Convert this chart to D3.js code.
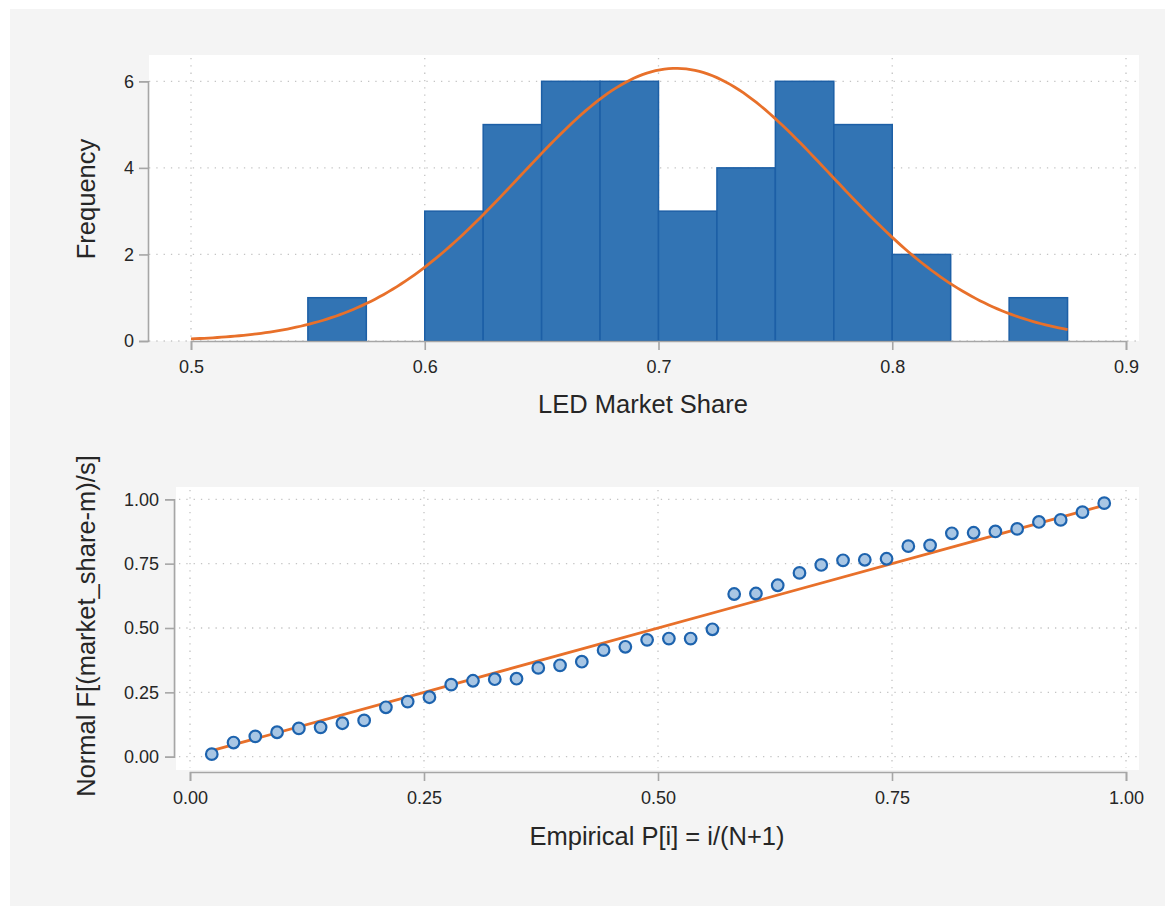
<!DOCTYPE html>
<html><head><meta charset="utf-8">
<script src="https://cdn.jsdelivr.net/npm/d3@7"></script>
<style>
html,body{margin:0;padding:0;background:#fff;}
svg{display:block;font-family:"Liberation Sans",Arial,Helvetica,sans-serif;}
</style></head>
<body>
<svg id="chart" width="1173" height="907"></svg>
<script>
// ---- Data ----
const binStarts = [0.55, 0.60, 0.625, 0.65, 0.675, 0.70, 0.725, 0.75, 0.775, 0.80, 0.85];
const binCounts = [1, 3, 5, 6, 6, 3, 4, 6, 5, 2, 1];
const binWidth = 0.025;
const histXTicks = [0.5, 0.6, 0.7, 0.8, 0.9];
const histYTicks = [0, 2, 4, 6];
const curveMean = 0.7075;
const curveSD = 0.0665;
const curveRange = [0.5, 0.875];

const normalF = [0.010, 0.055, 0.079, 0.095, 0.110, 0.114, 0.130, 0.141, 0.192, 0.214,
  0.231, 0.280, 0.295, 0.301, 0.303, 0.345, 0.355, 0.369, 0.414, 0.427,
  0.454, 0.459, 0.459, 0.495, 0.632, 0.634, 0.666, 0.714, 0.745, 0.763,
  0.765, 0.769, 0.818, 0.821, 0.868, 0.870, 0.875, 0.885, 0.912, 0.920,
  0.950, 0.985];
const ppXTicks = [0, 0.25, 0.5, 0.75, 1];
const ppYTicks = [0, 0.25, 0.5, 0.75, 1];

// ---- Styles ----
const C = {
  panel: "#f4f4f4", plotBg: "#ffffff", axis: "#a6a6a6", grid: "#c4c4c4",
  text: "#262626", barFill: "#3274b4", barStroke: "#1c5fa6",
  orange: "#e8702a", ptFill: "#a8c6e4", ptStroke: "#1d63ae"
};
const TICK_FS = "18px", TITLE_FS = "25.5px";

const svg = d3.select("#chart");
svg.append("rect").attr("x", 10).attr("y", 9).attr("width", 1155).attr("height", 897).attr("fill", C.panel);

function styleAxis(g) {
  g.selectAll(".domain").attr("stroke", C.axis).attr("stroke-width", 1.6);
  g.selectAll(".tick line").attr("stroke", C.axis).attr("stroke-width", 1.6);
  g.selectAll(".tick text").attr("fill", C.text).style("font-size", TICK_FS);
}

// ================= Top: histogram =================
{
  const box = {l: 149, r: 1139, t: 55, b: 341};
  const x = d3.scaleLinear().domain([0.5, 0.9]).range([191, 1126]);
  const y = d3.scaleLinear().domain([0, 6]).range([341, 81.3]);
  const g = svg.append("g");
  g.append("rect").attr("x", box.l).attr("y", box.t).attr("width", box.r - box.l).attr("height", box.b - box.t).attr("fill", C.plotBg);
  g.selectAll(".vg").data(histXTicks).join("line")
    .attr("x1", d => x(d)).attr("x2", d => x(d)).attr("y1", box.t + 3).attr("y2", box.b)
    .attr("stroke", C.grid).attr("stroke-width", 1.3).attr("stroke-dasharray", "1.3,6");
  g.selectAll(".hg").data(histYTicks).join("line")
    .attr("x1", box.l).attr("x2", box.r).attr("y1", d => y(d)).attr("y2", d => y(d))
    .attr("stroke", C.grid).attr("stroke-width", 1.3).attr("stroke-dasharray", "1.3,6");
  g.selectAll(".bar").data(binStarts.map((s, i) => ({s, c: binCounts[i]}))).join("rect")
    .attr("x", d => x(d.s)).attr("width", d => x(d.s + binWidth) - x(d.s))
    .attr("y", d => y(d.c)).attr("height", d => y(0) - y(d.c))
    .attr("fill", C.barFill).attr("stroke", C.barStroke).attr("stroke-width", 1.5);
  const n = d3.sum(binCounts);
  const dens = v => n * binWidth / (curveSD * Math.sqrt(2 * Math.PI)) * Math.exp(-0.5 * ((v - curveMean) / curveSD) ** 2);
  const xs = d3.range(0, 201).map(i => curveRange[0] + (curveRange[1] - curveRange[0]) * i / 200);
  g.append("path").datum(xs)
    .attr("d", d3.line().x(d => x(d)).y(d => y(dens(d))))
    .attr("fill", "none").attr("stroke", C.orange).attr("stroke-width", 2.8);
  const ax = g.append("g").attr("transform", "translate(0,341)")
    .call(d3.axisBottom(x).tickValues(histXTicks).tickFormat(d3.format(".1f")).tickSizeOuter(0).tickSize(9).tickPadding(10));
  styleAxis(ax);
  const ay = g.append("g").attr("transform", "translate(148,0)")
    .call(d3.axisLeft(y).tickValues(histYTicks).tickFormat(d3.format("d")).tickSizeOuter(0).tickSize(9).tickPadding(5));
  styleAxis(ay);
  g.append("text").attr("x", 643).attr("y", 413).attr("text-anchor", "middle")
    .attr("fill", C.text).style("font-size", TITLE_FS).text("LED Market Share");
  g.append("text").attr("transform", "translate(95,199) rotate(-90)").attr("text-anchor", "middle")
    .attr("fill", C.text).style("font-size", TITLE_FS).text("Frequency");
}

// ================= Bottom: P-P plot =================
{
  const box = {l: 176, r: 1139, t: 487, b: 770};
  const x = d3.scaleLinear().domain([0, 1]).range([190, 1126]);
  const y = d3.scaleLinear().domain([0, 1]).range([756.7, 499.3]);
  const g = svg.append("g");
  g.append("rect").attr("x", box.l).attr("y", box.t).attr("width", box.r - box.l).attr("height", box.b - box.t).attr("fill", C.plotBg);
  g.selectAll(".vg").data(ppXTicks).join("line")
    .attr("x1", d => x(d)).attr("x2", d => x(d)).attr("y1", box.t + 3).attr("y2", box.b - 2)
    .attr("stroke", C.grid).attr("stroke-width", 1.3).attr("stroke-dasharray", "1.3,6");
  g.selectAll(".hg").data(ppYTicks).join("line")
    .attr("x1", box.l + 3).attr("x2", box.r).attr("y1", d => y(d)).attr("y2", d => y(d))
    .attr("stroke", C.grid).attr("stroke-width", 1.3).attr("stroke-dasharray", "1.3,6");
  const N = normalF.length;
  const pts = normalF.map((v, i) => ({p: (i + 1) / (N + 1), f: v}));
  g.append("path").datum([pts[0].p, pts[N - 1].p])
    .attr("d", d3.line().x(d => x(d)).y(d => y(d)))
    .attr("fill", "none").attr("stroke", C.orange).attr("stroke-width", 2.8);
  g.selectAll(".pt").data(pts).join("circle")
    .attr("cx", d => x(d.p)).attr("cy", d => y(d.f)).attr("r", 5.8)
    .attr("fill", C.ptFill).attr("stroke", C.ptStroke).attr("stroke-width", 2.2);
  const ax = g.append("g").attr("transform", "translate(0,772)")
    .call(d3.axisBottom(x).tickValues(ppXTicks).tickFormat(d3.format(".2f")).tickSizeOuter(0).tickSize(9).tickPadding(10));
  styleAxis(ax);
  const ay = g.append("g").attr("transform", "translate(174,0)")
    .call(d3.axisLeft(y).tickValues(ppYTicks).tickFormat(d3.format(".2f")).tickSizeOuter(0).tickSize(9).tickPadding(6));
  styleAxis(ay);
  g.append("text").attr("x", 657).attr("y", 845).attr("text-anchor", "middle")
    .attr("fill", C.text).style("font-size", TITLE_FS).text("Empirical P[i] = i/(N+1)");
  g.append("text").attr("transform", "translate(95,626) rotate(-90)").attr("text-anchor", "middle")
    .attr("fill", C.text).style("font-size", TITLE_FS).text("Normal F[(market_share-m)/s]");
}
</script>
</body></html>
